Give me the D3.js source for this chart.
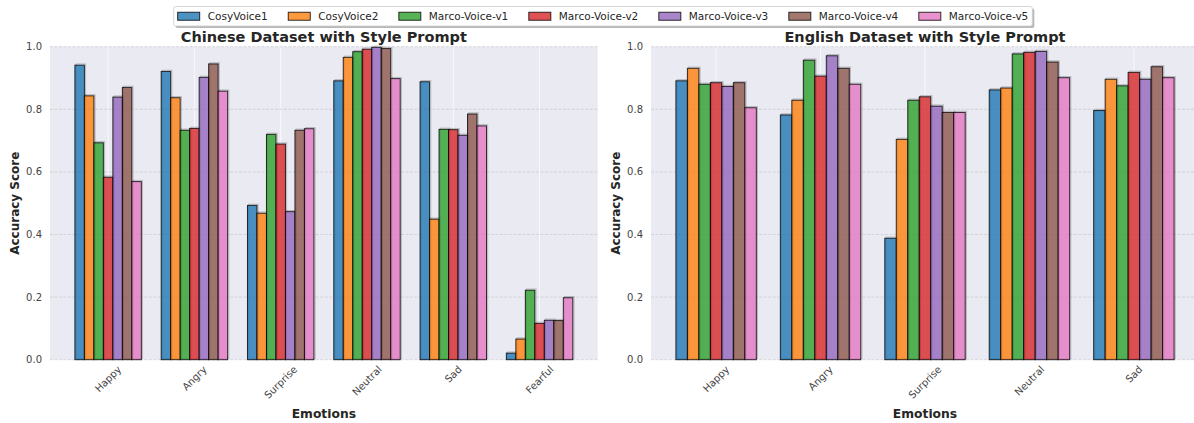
<!DOCTYPE html>
<html>
<head>
<meta charset="utf-8">
<script src="https://cdn.jsdelivr.net/npm/d3@7"></script>
<style>
  html, body { margin: 0; padding: 0; background: #ffffff; }
  svg { display: block; font-family: "DejaVu Sans", sans-serif; }
</style>
</head>
<body>
<svg id="chart" width="1194" height="423"></svg>
<script>
// ---------------- data ----------------
const seriesNames = ["CosyVoice1", "CosyVoice2", "Marco-Voice-v1", "Marco-Voice-v2", "Marco-Voice-v3", "Marco-Voice-v4", "Marco-Voice-v5"];
const seriesColors = ["#1f77b4", "#ff7f0e", "#2ca02c", "#d62728", "#9467bd", "#8c564b", "#e377c2"];

const zhCategories = ["Happy", "Angry", "Surprise", "Neutral", "Sad", "Fearful"];
const zhCosyVoice1 = [0.941, 0.921, 0.493, 0.891, 0.888, 0.021];
const zhCosyVoice2 = [0.843, 0.837, 0.468, 0.966, 0.449, 0.066];
const zhMarcoV1    = [0.693, 0.733, 0.720, 0.984, 0.736, 0.222];
const zhMarcoV2    = [0.583, 0.739, 0.689, 0.992, 0.735, 0.116];
const zhMarcoV3    = [0.839, 0.902, 0.473, 0.998, 0.717, 0.126];
const zhMarcoV4    = [0.870, 0.945, 0.733, 0.994, 0.785, 0.125];
const zhMarcoV5    = [0.569, 0.858, 0.738, 0.898, 0.747, 0.198];

const enCategories = ["Happy", "Angry", "Surprise", "Neutral", "Sad"];
const enCosyVoice1 = [0.891, 0.782, 0.388, 0.862, 0.796];
const enCosyVoice2 = [0.931, 0.829, 0.704, 0.868, 0.896];
const enMarcoV1    = [0.880, 0.957, 0.829, 0.977, 0.875];
const enMarcoV2    = [0.885, 0.906, 0.840, 0.982, 0.918];
const enMarcoV3    = [0.873, 0.971, 0.810, 0.985, 0.896];
const enMarcoV4    = [0.885, 0.931, 0.790, 0.951, 0.936];
const enMarcoV5    = [0.805, 0.880, 0.790, 0.901, 0.901];

const yTicks = [0.0, 0.2, 0.4, 0.6, 0.8, 1.0];
const titles = ["Chinese Dataset with Style Prompt", "English Dataset with Style Prompt"];
const xLabel = "Emotions";
const yLabel = "Accuracy Score";

const zhSeries = [zhCosyVoice1, zhCosyVoice2, zhMarcoV1, zhMarcoV2, zhMarcoV3, zhMarcoV4, zhMarcoV5];
const enSeries = [enCosyVoice1, enCosyVoice2, enMarcoV1, enMarcoV2, enMarcoV3, enMarcoV4, enMarcoV5];

// ---------------- layout ----------------
const svg = d3.select("#chart");
const barW = 0.11;
const panels = [
  { cats: zhCategories, series: zhSeries, title: titles[0], x0: 50, x1: 597.7, ylabX: 15 },
  { cats: enCategories, series: enSeries, title: titles[1], x0: 651, x1: 1199, ylabX: 616 }
];
const yTop = 46.7, yBot = 359.7;

panels.forEach(p => {
  const n = p.cats.length;
  const half = 3.5 * barW;
  const span = (n - 1) + 2 * half;
  const margin = span * 0.05;
  const x = d3.scaleLinear().domain([-half - margin, n - 1 + half + margin]).range([p.x0, p.x1]);
  const y = d3.scaleLinear().domain([0, 1]).range([yBot, yTop]);
  const g = svg.append("g");

  g.append("rect").attr("x", p.x0).attr("y", yTop).attr("width", p.x1 - p.x0).attr("height", yBot - yTop).attr("fill", "#eaeaf2");

  // vertical grid (white)
  g.selectAll(".vg").data(p.cats).enter().append("line")
    .attr("x1", (d, i) => x(i)).attr("x2", (d, i) => x(i))
    .attr("y1", yTop).attr("y2", yBot)
    .attr("stroke", "#ffffff").attr("stroke-width", 0.9).attr("opacity", 0.8);
  // horizontal dashed grid
  g.selectAll(".hg").data(yTicks).enter().append("line")
    .attr("x1", p.x0).attr("x2", p.x1)
    .attr("y1", d => y(d)).attr("y2", d => y(d))
    .attr("stroke", "#c4c4ca").attr("stroke-width", 0.8)
    .attr("stroke-dasharray", "3,1.5").attr("opacity", 0.75);

  // bars
  p.series.forEach((vals, j) => {
    const off = (j - 3) * barW;
    // shadow
    g.selectAll(".sh" + j).data(vals).enter().append("rect")
      .attr("x", (d, i) => x(i + off - barW / 2) + 1.2)
      .attr("y", d => y(d) - 1.2)
      .attr("width", x(barW) - x(0))
      .attr("height", d => y(0) - y(d))
      .attr("fill", "none").attr("stroke", "#000").attr("stroke-opacity", 0.22).attr("stroke-width", 1);
  });
  p.series.forEach((vals, j) => {
    const off = (j - 3) * barW;
    g.selectAll(".b" + j).data(vals).enter().append("rect")
      .attr("x", (d, i) => x(i + off - barW / 2))
      .attr("y", d => y(d))
      .attr("width", x(barW) - x(0))
      .attr("height", d => y(0) - y(d))
      .attr("fill", seriesColors[j]).attr("fill-opacity", 0.8)
      .attr("stroke", "#000").attr("stroke-opacity", 0.8).attr("stroke-width", 1);
  });

  // y tick labels
  g.selectAll(".yt").data(yTicks).enter().append("text")
    .attr("x", p.x0 - 8).attr("y", d => y(d)).attr("dy", "0.35em")
    .attr("text-anchor", "end").attr("font-size", 10).attr("fill", "#444")
    .text(d => d.toFixed(1));

  // x tick labels, rotated 45°, centered bbox
  p.cats.forEach((c, i) => {
    const t = g.append("text").attr("font-size", 10).attr("fill", "#444")
      .attr("text-anchor", "middle").attr("dominant-baseline", "central").text(c);
    const w = t.node().getComputedTextLength();
    const h = 10 * 1.1;
    const bh = (w + h) * Math.SQRT1_2;
    const cx = x(i), cy = yBot + 4 + bh / 2;
    t.attr("transform", `translate(${cx},${cy}) rotate(-45)`);
  });

  // axis labels
  g.append("text").attr("x", (p.x0 + p.x1) / 2).attr("y", 418)
    .attr("text-anchor", "middle").attr("font-size", 12.3).attr("font-weight", "bold").attr("fill", "#262626")
    .text(xLabel);
  g.append("text").attr("transform", `translate(${p.ylabX + 4},${(yTop + yBot) / 2}) rotate(-90)`)
    .attr("text-anchor", "middle").attr("font-size", 12).attr("font-weight", "bold").attr("fill", "#262626")
    .text(yLabel);
  // title
  g.append("text").attr("x", (p.x0 + p.x1) / 2).attr("y", 41.5)
    .attr("text-anchor", "middle").attr("font-size", 14.5).attr("font-weight", "bold").attr("fill", "#262626")
    .text(p.title);
});

// ---------------- legend ----------------
const lg = svg.append("g");
const fs = 10.5, patchW = 22, patchH = 8, gapT = 8, gapItem = 20.5, padX = 4;
const items = seriesNames.map((s, j) => {
  const t = lg.append("text").attr("font-size", fs).attr("fill", "#262626").text(s);
  return { t, w: t.node().getComputedTextLength(), j };
});
const totalW = d3.sum(items, d => patchW + gapT + d.w) + gapItem * (items.length - 1) + padX * 2;
const lx0 = 603 - totalW / 2, ly0 = 6.5, lh = 19.5;
lg.insert("rect", ":first-child").attr("x", lx0 + 2).attr("y", ly0 + 2).attr("width", totalW).attr("height", lh)
  .attr("rx", 2).attr("fill", "#888").attr("opacity", 0.6);
lg.insert("rect", "text").attr("x", lx0).attr("y", ly0).attr("width", totalW).attr("height", lh)
  .attr("rx", 2).attr("fill", "#ffffff").attr("stroke", "#cccccc").attr("stroke-width", 0.8);
let cx = lx0 + padX;
items.forEach(d => {
  lg.append("rect").attr("x", cx).attr("y", ly0 + lh / 2 - patchH / 2).attr("width", patchW).attr("height", patchH)
    .attr("fill", seriesColors[d.j]).attr("fill-opacity", 0.8).attr("stroke", "#000").attr("stroke-opacity", 0.8).attr("stroke-width", 1);
  d.t.attr("x", cx + patchW + gapT).attr("y", ly0 + lh / 2).attr("dy", "0.35em");
  cx += patchW + gapT + d.w + gapItem;
});
</script>
</body>
</html>
